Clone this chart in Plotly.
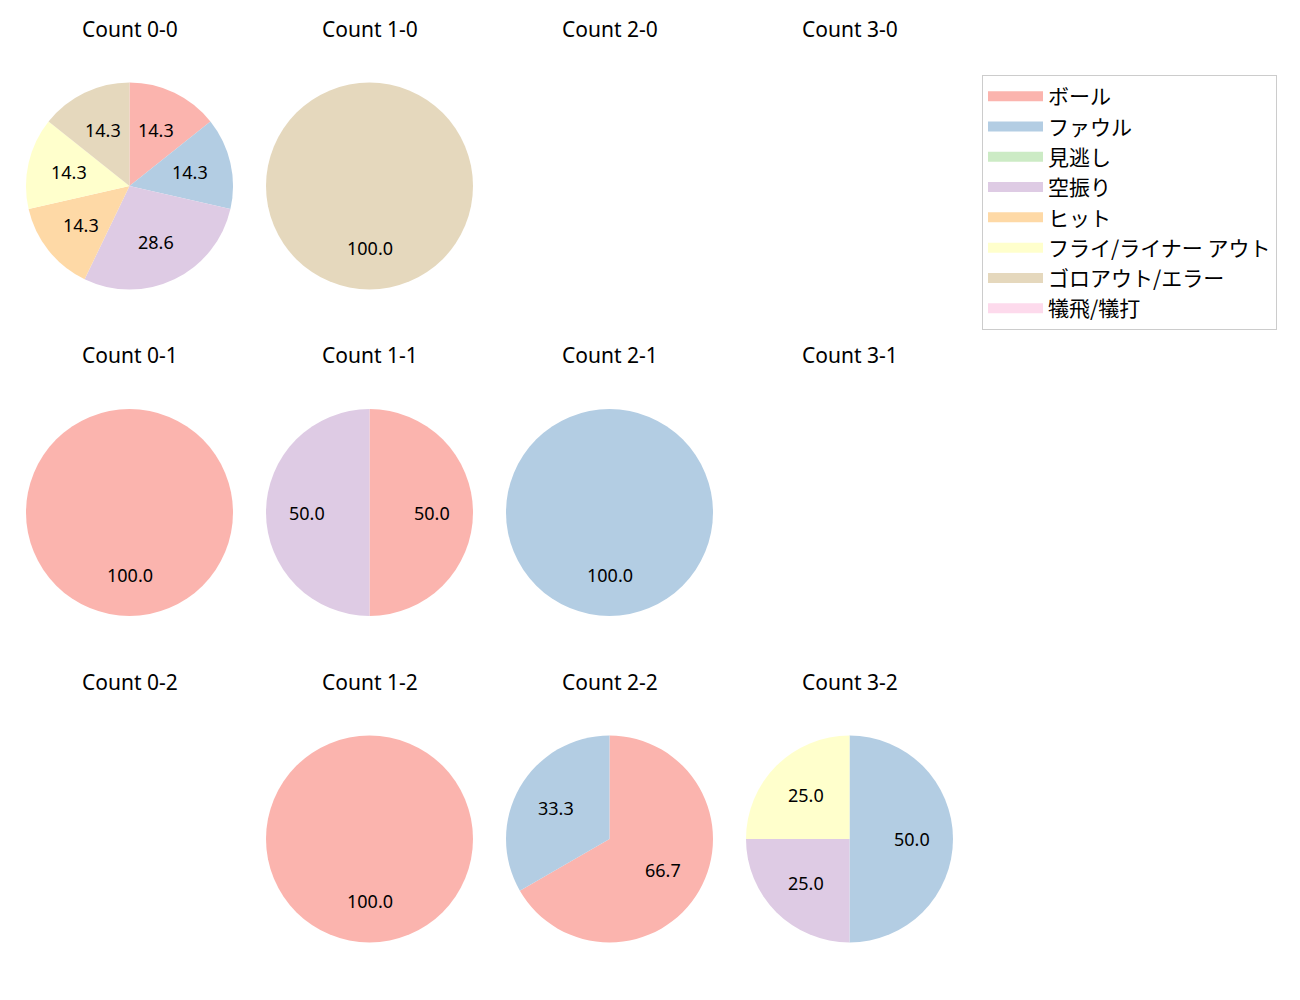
import math
import plotly.graph_objects as go

categories = ["ボール", "ファウル", "見逃し", "空振り", "ヒット",
              "フライ/ライナー アウト", "ゴロアウト/エラー", "犠飛/犠打"]
colors = ["#fbb4ae", "#b3cde3", "#ccebc5", "#decbe4", "#fed9a6",
          "#ffffcc", "#e5d8bd", "#fddaec"]

# counts per pitch count (balls-strikes), in category order
count_titles = [["Count 0-0", "Count 1-0", "Count 2-0", "Count 3-0"],
                ["Count 0-1", "Count 1-1", "Count 2-1", "Count 3-1"],
                ["Count 0-2", "Count 1-2", "Count 2-2", "Count 3-2"]]
values_0_0 = [1, 1, 0, 2, 1, 1, 1, 0]
values_1_0 = [0, 0, 0, 0, 0, 0, 1, 0]
values_2_0 = [0, 0, 0, 0, 0, 0, 0, 0]
values_3_0 = [0, 0, 0, 0, 0, 0, 0, 0]
values_0_1 = [1, 0, 0, 0, 0, 0, 0, 0]
values_1_1 = [1, 0, 0, 1, 0, 0, 0, 0]
values_2_1 = [0, 1, 0, 0, 0, 0, 0, 0]
values_3_1 = [0, 0, 0, 0, 0, 0, 0, 0]
values_0_2 = [0, 0, 0, 0, 0, 0, 0, 0]
values_1_2 = [1, 0, 0, 0, 0, 0, 0, 0]
values_2_2 = [2, 1, 0, 0, 0, 0, 0, 0]
values_3_2 = [0, 2, 0, 1, 0, 1, 0, 0]
grid_values = [[values_0_0, values_1_0, values_2_0, values_3_0],
               [values_0_1, values_1_1, values_2_1, values_3_1],
               [values_0_2, values_1_2, values_2_2, values_3_2]]

W, H = 1300, 1000
FONT = "Noto Sans, Noto Sans CJK JP, sans-serif"
LFONT = "Noto Sans CJK JP, sans-serif"
col_x0, col_dx = 129.5, 240
row_y0, row_dy = 186, 326.5
R = 103.5
title_dy = 157

fig = go.Figure()
annotations = []
for r, row in enumerate(grid_values):
    for c, vals in enumerate(row):
        cx = col_x0 + c * col_dx
        cy = row_y0 + r * row_dy
        annotations.append(dict(
            x=cx / W, y=1 - (cy - title_dy) / H, xref="paper", yref="paper",
            text=count_titles[r][c], showarrow=False,
            font=dict(size=21, color="#000000", family=FONT),
            xanchor="center", yanchor="middle"))
        total = sum(vals)
        if total == 0:
            continue
        fig.add_trace(go.Pie(
            labels=categories, values=vals, sort=False,
            direction="clockwise", rotation=0,
            marker=dict(colors=colors, line=dict(color="white", width=0)),
            textinfo="none", hoverinfo="label+percent",
            showlegend=False,
            domain=dict(x=[(cx - R) / W, (cx + R) / W],
                        y=[1 - (cy + R) / H, 1 - (cy - R) / H]),
        ))
        cum = 0.0
        for v in vals:
            if v > 0:
                frac = v / total
                th = 2 * math.pi * (cum + frac / 2)
                px = cx + 0.6 * R * math.sin(th)
                py = cy - 0.6 * R * math.cos(th)
                annotations.append(dict(
                    x=px / W, y=1 - py / H, xref="paper", yref="paper",
                    text=f"{frac * 100:.1f}", showarrow=False,
                    font=dict(size=18, color="#000000", family=FONT),
                    xanchor="center", yanchor="middle"))
                cum += frac

# legend entries (one per category)
for cat, col in zip(categories, colors):
    fig.add_trace(go.Scatter(
        x=[None], y=[None], mode="lines", name=cat,
        line=dict(color=col, width=15), legendgroup=cat,
        showlegend=True, hoverinfo="skip"))

fig.update_layout(
    width=W, height=H,
    margin=dict(l=0, r=0, t=0, b=0),
    paper_bgcolor="white", plot_bgcolor="white",
    annotations=annotations,
    xaxis=dict(visible=False), yaxis=dict(visible=False),
    legend=dict(x=982 / W, y=1 - 75 / H, xanchor="left", yanchor="top",
                font=dict(size=21, family=LFONT, color="#000000"),
                bordercolor="#cccccc", borderwidth=1, bgcolor="white",
                traceorder="grouped", tracegroupgap=0, itemwidth=55),
    font=dict(family=FONT),
)

fig.write_html("out.html")
